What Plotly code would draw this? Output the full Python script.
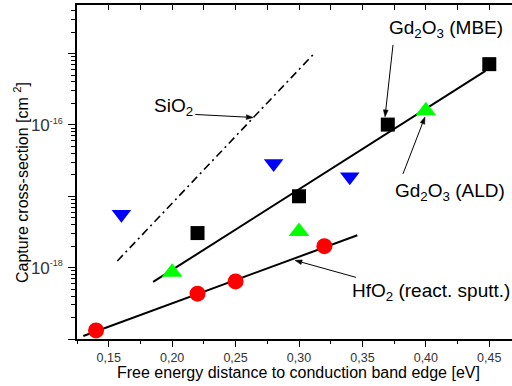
import numpy as np
import plotly.graph_objects as go

# Measured capture cross-sections vs. free-energy distance to the conduction band edge
gd_mbe_x = [0.22, 0.30, 0.37, 0.45]
gd_mbe_y = [3.05e-18, 1.0e-17, 1.01e-16, 7.1e-16]

gd_ald_x = [0.20, 0.30, 0.40]
gd_ald_y = [8.6e-19, 3.2e-18, 1.58e-16]

blue_x = [0.16, 0.28, 0.34]
blue_y = [5.6e-18, 2.88e-17, 1.87e-17]

hfo2_x = [0.14, 0.22, 0.25, 0.32]
hfo2_y = [1.32e-19, 4.32e-19, 6.4e-19, 2.0e-18]

# Exponential fit lines (end points)
gd_fit_x = [0.185, 0.447]
gd_fit_y = [6.3e-19, 5.7e-16]
hf_fit_x = [0.13, 0.346]
hf_fit_y = [1.1e-19, 2.84e-18]
sio2_x = [0.1568, 0.3126]
sio2_y = [1.24e-18, 1.03e-15]

x_ticks = [0.15, 0.20, 0.25, 0.30, 0.35, 0.40, 0.45]
x_ticktext = ["0,15", "0,20", "0,25", "0,30", "0,35", "0,40", "0,45"]
x_minor = [0.125, 0.175, 0.225, 0.275, 0.325, 0.375, 0.425, 0.475]
y_label_ticks = [1e-18, 1e-16]
y_label_exp = ["-18", "-16"]
y_plain_ticks = [1e-19, 1e-17, 1e-15]
y_minor = [k * 10.0 ** e for e in range(-19, -14) for k in range(2, 10)]

# Arrow tips (data) and tail offsets (pixels) for the labels
arrow_tip_x = [0.264, 0.3678, 0.3993, 0.2968]
arrow_tip_y = [10 ** -15.896, 10 ** -15.888, 10 ** -15.888, 10 ** -17.898]
arrow_dx = [-58, 8, -22, 61]
arrow_dy = [-3, -72, 57, 17]

FONT = "Liberation Sans, Arial, sans-serif"
XR = [0.125, 0.4679]
YR = [-19.0, -14.32]
W, H, L, B = 435.0, 334.0, 77.0, 339.0

y_label_text = ['10<sup><span style="font-size:9px">%s</span></sup>' % e for e in y_label_exp]

fig = go.Figure()

fig.add_trace(go.Scatter(x=sio2_x, y=sio2_y, mode="lines",
                         line=dict(color="black", width=1.6, dash="8px,4px,2px,4px")))
fig.add_trace(go.Scatter(x=gd_fit_x, y=gd_fit_y, mode="lines",
                         line=dict(color="black", width=2)))
fig.add_trace(go.Scatter(x=hf_fit_x, y=hf_fit_y, mode="lines",
                         line=dict(color="black", width=2)))

fig.add_trace(go.Scatter(x=gd_mbe_x, y=gd_mbe_y, mode="markers",
                         marker=dict(symbol="square", size=14, color="black")))
fig.add_trace(go.Scatter(x=gd_ald_x, y=gd_ald_y, mode="markers",
                         marker=dict(symbol="triangle-up", size=18, color="#00ff00")))
fig.add_trace(go.Scatter(x=blue_x, y=blue_y, mode="markers",
                         marker=dict(symbol="triangle-down", size=17, color="#0000ff")))
fig.add_trace(go.Scatter(x=hfo2_x, y=hfo2_y, mode="markers",
                         marker=dict(symbol="circle", size=16, color="#ff0000")))
# carriers for the overlay axes (top ticks, unlabeled decade ticks)
fig.add_trace(go.Scatter(x=[None], y=[None], xaxis="x2", yaxis="y"))
fig.add_trace(go.Scatter(x=[None], y=[None], xaxis="x", yaxis="y2"))

axis_line = dict(showgrid=False, zeroline=False, showline=True,
                 linecolor="black", linewidth=1.5)

fig.update_layout(
    width=512, height=386,
    margin=dict(l=int(L), r=0, t=5, b=386 - int(B)),
    paper_bgcolor="white", plot_bgcolor="white",
    showlegend=False,
    font=dict(family=FONT, color="black"),
    xaxis=dict(
        range=XR, **axis_line,
        tickmode="array", tickvals=x_ticks, ticktext=x_ticktext,
        ticks="outside", ticklen=6, tickwidth=1.2, tickcolor="black",
        tickfont=dict(size=12.5, color="#333"),
        minor=dict(tickmode="array", tickvals=x_minor, ticks="outside",
                   ticklen=3.5, tickwidth=1.2, tickcolor="black"),
    ),
    xaxis2=dict(
        range=XR, overlaying="x", side="top", anchor="y", **axis_line,
        tickmode="array", tickvals=x_ticks, showticklabels=False,
        ticks="inside", ticklen=5, tickwidth=1.2, tickcolor="black",
        minor=dict(tickmode="array", tickvals=x_minor, ticks="inside",
                   ticklen=5, tickwidth=1.2, tickcolor="black"),
    ),
    yaxis=dict(
        type="log", range=YR, **axis_line,
        tickmode="array", tickvals=y_label_ticks, ticktext=y_label_text,
        ticks="outside", ticklen=7, tickwidth=1.2, tickcolor="black",
        tickfont=dict(size=17, color="#333"),
        ticklabelstandoff=2,
        minor=dict(tickmode="array", tickvals=y_minor, ticks="outside",
                   ticklen=4, tickwidth=1.2, tickcolor="black"),
    ),
    yaxis2=dict(
        type="log", range=YR, overlaying="y", side="left", anchor="x", **axis_line,
        tickmode="array", tickvals=y_plain_ticks, showticklabels=False,
        ticks="outside", ticklen=7, tickwidth=1.2, tickcolor="black",
    ),
)


def to_paper_from_px(xp, yp):
    return (xp - L) / W, (B - yp) / H


def data_to_px(x, y):
    xp = L + (x - XR[0]) / (XR[1] - XR[0]) * W
    yp = B - (np.log10(y) - YR[0]) / (YR[1] - YR[0]) * H
    return xp, yp


def text_ann(label, xp_, yp_, size=19, anchor="left", angle=0):
    xx, yy = to_paper_from_px(xp_, yp_)
    fig.add_annotation(text=label, x=xx, y=yy, xref="paper", yref="paper",
                       xanchor=anchor, yanchor="middle", showarrow=False,
                       textangle=angle, font=dict(size=size, family=FONT, color="black"))


def arrow(x_tip, y_tip, dx, dy, head_len=7.0, head_half=2.4):
    hx, hy = data_to_px(x_tip, y_tip)
    tx, ty = hx + dx, hy + dy
    ux, uy = (hx - tx), (hy - ty)
    n = np.hypot(ux, uy)
    ux, uy = ux / n, uy / n
    bx, by = hx - ux * head_len, hy - uy * head_len
    p0 = to_paper_from_px(tx, ty)
    p1 = to_paper_from_px(bx, by)
    fig.add_shape(type="line", xref="paper", yref="paper",
                  x0=p0[0], y0=p0[1], x1=p1[0], y1=p1[1],
                  line=dict(color="black", width=1))
    c1 = to_paper_from_px(bx - uy * head_half, by + ux * head_half)
    c2 = to_paper_from_px(bx + uy * head_half, by - ux * head_half)
    tip = to_paper_from_px(hx, hy)
    path = f"M {tip[0]},{tip[1]} L {c1[0]},{c1[1]} L {c2[0]},{c2[1]} Z"
    fig.add_shape(type="path", xref="paper", yref="paper", path=path,
                  fillcolor="black", line=dict(color="black", width=0.5))


text_ann("SiO<sub>2</sub>", 151.7, 107.2)
text_ann("Gd<sub>2</sub>O<sub>3</sub> (MBE)", 386.7, 28.8)
text_ann("Gd<sub>2</sub>O<sub>3</sub> (ALD)", 393, 192.2)
text_ann("HfO<sub>2</sub> (react. sputt.)", 350, 292.2)

for ax_, ay_, dx_, dy_ in zip(arrow_tip_x, arrow_tip_y, arrow_dx, arrow_dy):
    arrow(ax_, ay_, dx_, dy_)

text_ann("Free energy distance to conduction band edge [eV]", 298.7, 372, size=16, anchor="center")
text_ann("Capture cross-section [cm <sup>2</sup>]", 21, 183, size=16, anchor="center", angle=-90)

fig.write_html("out.html")
